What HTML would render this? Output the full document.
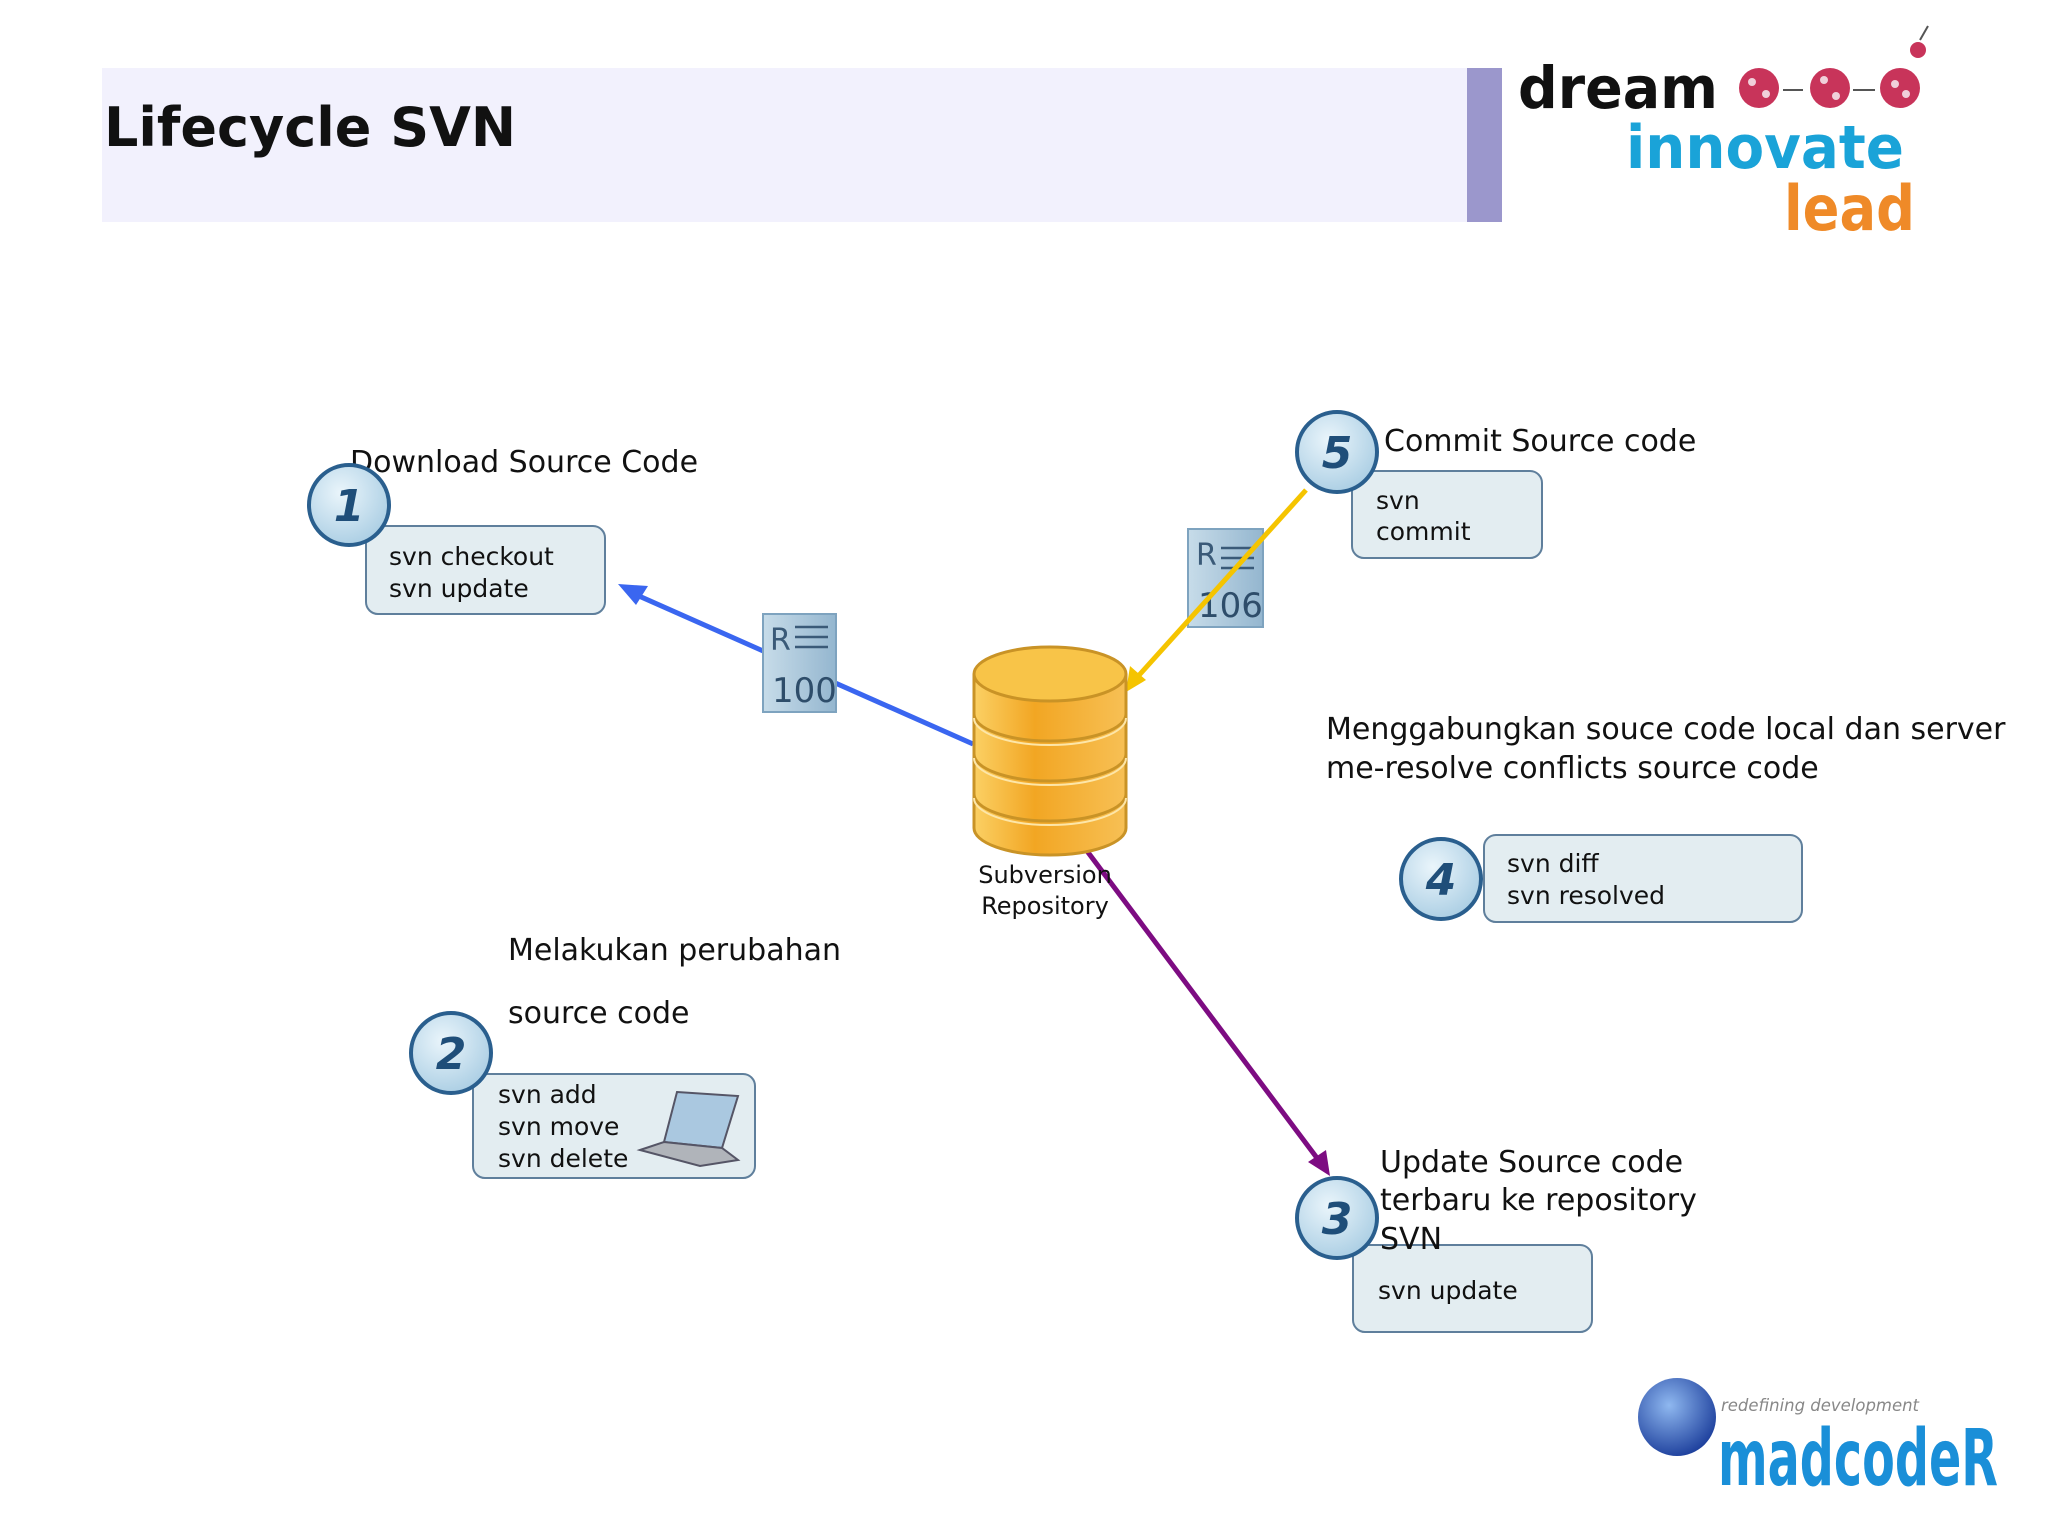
<!DOCTYPE html>
<html><head><meta charset="utf-8"><style>
html,body{margin:0;padding:0;background:#fff}
svg{display:block}
text{font-family:"DejaVu Sans","Liberation Sans",sans-serif}
</style></head><body>
<svg width="2048" height="1536" viewBox="0 0 2048 1536" xmlns="http://www.w3.org/2000/svg">
<defs>
<radialGradient id="cg" cx="40%" cy="35%" r="70%"><stop offset="0" stop-color="#eaf5fb"/><stop offset="1" stop-color="#a9cde3"/></radialGradient>
<linearGradient id="cyl" x1="0" x2="1"><stop offset="0" stop-color="#fbd064"/><stop offset="0.4" stop-color="#f2a623"/><stop offset="1" stop-color="#f7c055"/></linearGradient>
<linearGradient id="doc" x1="0" x2="1"><stop offset="0" stop-color="#c7dce9"/><stop offset="1" stop-color="#94b6cf"/></linearGradient>
<radialGradient id="gl" cx="40%" cy="35%" r="70%"><stop offset="0" stop-color="#8fb8f0"/><stop offset="1" stop-color="#1a3c9a"/></radialGradient>
</defs>
<rect width="2048" height="1536" fill="#fff"/>
<!-- title -->
<rect x="102" y="68" width="1365" height="154" fill="#f2f1fd"/>
<rect x="1467" y="68" width="35" height="154" fill="#9b97cc"/>
<text x="104" y="146" font-size="54" font-weight="bold" fill="#111">Lifecycle SVN</text>
<!-- logo -->
<text x="1518" y="108" font-size="58" font-weight="bold" fill="#111" textLength="200" lengthAdjust="spacingAndGlyphs">dream</text>
<g fill="#c8345a"><circle cx="1759" cy="88" r="20"/><circle cx="1830" cy="88" r="20"/><circle cx="1900" cy="88" r="20"/><circle cx="1918" cy="50" r="8"/></g>
<g fill="#f0d0da"><circle cx="1752" cy="82" r="4"/><circle cx="1766" cy="94" r="4"/><circle cx="1824" cy="80" r="4"/><circle cx="1836" cy="96" r="4"/><circle cx="1895" cy="84" r="4"/><circle cx="1906" cy="94" r="4"/></g>
<path d="M1783 90 h20 M1853 90 h22 M1920 40 l8 -14" stroke="#555" stroke-width="2"/>
<text x="1626" y="168" font-size="60" font-weight="bold" fill="#1aa3d8" textLength="278" lengthAdjust="spacingAndGlyphs">innovate</text>
<text x="1784" y="230" font-size="62" font-weight="bold" fill="#ef8a28" textLength="131" lengthAdjust="spacingAndGlyphs">lead</text>
<!-- arrows -->
<line x1="973" y1="744" x2="630" y2="592" stroke="#3a66f0" stroke-width="5"/>
<path d="M618,584 L648,586 L636,605 z" fill="#3a66f0"/>
<!-- docs -->
<rect x="763" y="614" width="73" height="98" fill="url(#doc)" stroke="#7ea3bf" stroke-width="2"/>
<text x="770" y="650" font-size="30" fill="#3a5a78">R</text>
<path d="M795 627 h33 M795 637 h33 M795 647 h33" stroke="#3a5a78" stroke-width="2.5"/>
<text x="772" y="702" font-size="34" fill="#2e4d6a">100</text>
<rect x="1188" y="529" width="75" height="98" fill="url(#doc)" stroke="#7ea3bf" stroke-width="2"/>
<text x="1196" y="565" font-size="30" fill="#3a5a78">R</text>
<path d="M1221 548 h33 M1221 558 h33 M1221 568 h33" stroke="#3a5a78" stroke-width="2.5"/>
<text x="1198" y="617" font-size="34" fill="#2e4d6a">106</text>
<!-- yellow -->
<line x1="1306" y1="490" x2="1132" y2="683" stroke="#f5c400" stroke-width="5"/>
<path d="M1126,692 L1130,666 L1146,680 z" fill="#f5c400"/>
<!-- purple -->
<line x1="1087" y1="851" x2="1320" y2="1162" stroke="#7d0c82" stroke-width="5"/>
<path d="M1330,1176 L1308,1162 L1326,1150 z" fill="#7d0c82"/>
<!-- cylinder -->
<g stroke="#c99326" stroke-width="3">
<path d="M974,674 L974,828 A76,27 0 0 0 1126,828 L1126,674" fill="url(#cyl)"/>
<path d="M974,714 A76,27 0 0 0 1126,714 M974,754 A76,27 0 0 0 1126,754 M974,794 A76,27 0 0 0 1126,794" fill="none"/>
<ellipse cx="1050" cy="674" rx="76" ry="27" fill="#f8c448"/>
</g>
<path d="M974,718 A76,27 0 0 0 1126,718 M974,758 A76,27 0 0 0 1126,758 M974,798 A76,27 0 0 0 1126,798" stroke="#fde6a8" stroke-width="2" fill="none"/>
<text x="1045" y="883" font-size="24" text-anchor="middle" fill="#111">Subversion</text>
<text x="1045" y="914" font-size="24" text-anchor="middle" fill="#111">Repository</text>
<!-- boxes -->
<g fill="#e3edf1" stroke="#5f7f9c" stroke-width="2">
<rect x="366" y="526" width="239" height="88" rx="12"/>
<rect x="1352" y="471" width="190" height="87" rx="12"/>
<rect x="1484" y="835" width="318" height="87" rx="12"/>
<rect x="1353" y="1245" width="239" height="87" rx="12"/>
<rect x="473" y="1074" width="282" height="104" rx="12"/>
</g>
<!-- laptop -->
<path d="M677,1092 L738,1096 L722,1148 L664,1142 z" fill="#aac8e0" stroke="#556" stroke-width="2"/>
<path d="M640,1150 L664,1142 L722,1148 L738,1160 L700,1166 z" fill="#b0b4ba" stroke="#556" stroke-width="2"/>
<g font-size="25" fill="#111">
<text x="389" y="565">svn checkout</text><text x="389" y="597">svn update</text>
<text x="1376" y="509">svn</text><text x="1376" y="540">commit</text>
<text x="1507" y="872">svn diff</text><text x="1507" y="904">svn resolved</text>
<text x="1378" y="1299">svn update</text>
<text x="498" y="1103">svn add</text><text x="498" y="1135">svn move</text><text x="498" y="1167">svn delete</text>
</g>
<g font-size="30" fill="#111">
<text x="350" y="472">Download Source Code</text>
<text x="1384" y="451">Commit Source code</text>
<text x="1326" y="739">Menggabungkan souce code local dan server</text>
<text x="1326" y="778">me-resolve conflicts source code</text>
<text x="1380" y="1172">Update Source code</text>
<text x="1380" y="1210">terbaru ke repository</text>
<text x="1380" y="1249">SVN</text>
<text x="508" y="960">Melakukan perubahan</text>
<text x="508" y="1023">source code</text>
</g>
<!-- circles -->
<g stroke="#2a5f8e" stroke-width="4" fill="url(#cg)">
<circle cx="349" cy="505" r="40"/><circle cx="451" cy="1053" r="40"/><circle cx="1337" cy="1218" r="40"/><circle cx="1441" cy="879" r="40"/><circle cx="1337" cy="452" r="40"/>
</g>
<g font-size="44" font-weight="bold" font-style="italic" fill="#1f4e79" text-anchor="middle">
<text x="349" y="521">1</text><text x="451" y="1069">2</text><text x="1337" y="1234">3</text><text x="1441" y="895">4</text><text x="1337" y="468">5</text>
</g>
<!-- madcoder -->
<circle cx="1677" cy="1417" r="39" fill="url(#gl)"/>
<text x="1721" y="1411" font-size="17" font-style="italic" fill="#888" textLength="198" lengthAdjust="spacingAndGlyphs">redefining development</text>
<text x="1718" y="1485" font-size="78" font-weight="bold" fill="#1a8fd8" font-family="Liberation Sans Narrow,Liberation Sans,sans-serif" textLength="280" lengthAdjust="spacingAndGlyphs">madcodeR</text>
</svg>
</body></html>
